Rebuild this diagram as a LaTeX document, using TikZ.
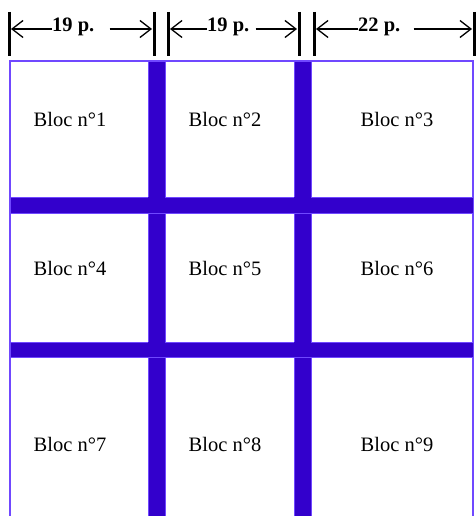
\documentclass[tikz,border=0pt]{standalone}
\usepackage{fontspec}
\setmainfont{Liberation Serif}
\usetikzlibrary{arrows.meta}
\definecolor{barblue}{RGB}{51,0,204}
\definecolor{edgeblue}{RGB}{112,72,255}
\begin{document}
\begin{tikzpicture}[
x=1pt, y=-1pt,
every node/.style={
    inner sep=0pt,
    font=\fontsize{20.5}{24}\selectfont
},
dimlabel/.style={font=\fontsize{20.5}{24}\selectfont\bfseries, anchor=base west},
dimline/.style={line width=1.3pt, -{Straight Barb[length=11pt,width=17pt,line width=1.3pt]}},
dimtick/.style={line width=3pt},
bar/.style={fill=barblue, draw=edgeblue, line width=0.8pt},
frameline/.style={draw=edgeblue, line width=2pt}
]
\useasboundingbox (0,0) rectangle (475,516);

%---------------- Frame ----------------
\draw[frameline] (10,516) -- (10,61) -- (473,61) -- (473,516);

\fill[bar] (148,61) rectangle (165,516);
\fill[bar] (294,61) rectangle (311,516);
\fill[bar] (10,197) rectangle (473,213);
\fill[bar] (10,342) rectangle (473,357);
\fill[barblue] (148,197) rectangle (165,213);
\fill[barblue] (294,197) rectangle (311,213);
\fill[barblue] (148,342) rectangle (165,357);
\fill[barblue] (294,342) rectangle (311,357);

%---------------- Blocs ----------------
\node (b1) at (70,119) {Bloc n°1};
\node (b2) at (225,119) {Bloc n°2};
\node (b3) at (397,119) {Bloc n°3};
\node (b4) at (70,268) {Bloc n°4};
\node (b5) at (225,268) {Bloc n°5};
\node (b6) at (397,268) {Bloc n°6};
\node (b7) at (70,444) {Bloc n°7};
\node (b8) at (225,444) {Bloc n°8};
\node (b9) at (397,444) {Bloc n°9};

%---------------- Widths ----------------
\draw[dimtick] (9,12) -- (9,56);
\draw[dimtick] (154,12) -- (154,56);
\draw[dimtick] (168,12) -- (168,56);
\draw[dimtick] (299,12) -- (299,56);
\draw[dimtick] (314,12) -- (314,56);
\draw[dimtick] (474,12) -- (474,56);

\coordinate (l1) at (11,29);
\coordinate (r1) at (152,29);
\coordinate (l2) at (170,29);
\coordinate (r2) at (297,29);
\coordinate (l3) at (316,29);
\coordinate (r3) at (472,29);

\node[dimlabel] (w1) at (52,32) {19 p.};
\node[dimlabel] (w2) at (207,32) {19 p.};
\node[dimlabel] (w3) at (358,32) {22 p.};

\draw[dimline] (w1.west |- l1) -- (l1);
\draw[dimline] ([xshift=15pt]w1.east |- r1) -- (r1);
\draw[dimline] (w2.west |- l2) -- (l2);
\draw[dimline] ([xshift=6pt]w2.east |- r2) -- (r2);
\draw[dimline] (w3.west |- l3) -- (l3);
\draw[dimline] ([xshift=13pt]w3.east |- r3) -- (r3);

\end{tikzpicture}
\end{document}
